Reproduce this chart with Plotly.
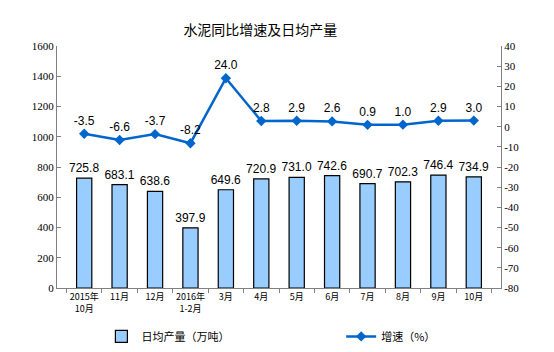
import plotly.graph_objects as go

categories = ["2015年<br>10月", "11月", "12月", "2016年<br>1-2月", "3月", "4月", "5月", "6月", "7月", "8月", "9月", "10月"]
daily_output = [725.8, 683.1, 638.6, 397.9, 649.6, 720.9, 731.0, 742.6, 690.7, 702.3, 746.4, 734.9]
growth = [-3.5, -6.6, -3.7, -8.2, 24.0, 2.8, 2.9, 2.6, 0.9, 1.0, 2.9, 3.0]
left_ticks = list(range(0, 1601, 200))
right_ticks = list(range(-80, 41, 10))

fig = go.Figure()
fig.add_trace(go.Bar(
    x=categories, y=daily_output, name="日均产量（万吨）",
    marker=dict(color="#99CCFF", line=dict(color="#000000", width=1.2)),
    width=0.43,
    text=[f"{v:.1f}" for v in daily_output], textposition="outside", constraintext="none",
    textfont=dict(family="Liberation Sans, Arial", size=12, color="#000"),
    cliponaxis=False, legend="legend",
))
fig.add_trace(go.Scatter(
    x=categories, y=growth, name="增速（%）", yaxis="y2",
    mode="lines+markers+text",
    line=dict(color="#0066CC", width=2.5),
    marker=dict(symbol="diamond", size=8, color="#0066CC"),
    text=[f"{v:.1f}" for v in growth], textposition="top center",
    textfont=dict(family="Liberation Sans, Arial", size=12, color="#000"),
    cliponaxis=False, legend="legend2",
))

fig.update_layout(
    width=554, height=352,
    margin=dict(l=57, r=53, t=46, b=64, autoexpand=False),
    paper_bgcolor="white", plot_bgcolor="white",
    title=dict(text="水泥同比增速及日均产量", x=0.47, xanchor="center", y=0.915, yanchor="middle",
               font=dict(family="Noto Sans CJK SC", size=14, color="#000")),
    xaxis=dict(showline=True, linecolor="#808080", linewidth=1, ticks="outside", tickson="boundaries",
               ticklen=4, tickcolor="#808080", showgrid=False, tickangle=0, automargin=False,
               tickfont=dict(family="Noto Sans CJK SC", size=9, color="#000")),
    yaxis=dict(range=[0, 1600], tickvals=left_ticks, ticktext=[str(v) for v in left_ticks],
               showline=True, linecolor="#808080", linewidth=1, automargin=False,
               ticks="inside", ticklen=4, tickcolor="#808080", showgrid=False, zeroline=False,
               tickfont=dict(family="Liberation Serif, Times New Roman", size=11, color="#000")),
    yaxis2=dict(range=[-80, 40], tickvals=right_ticks, ticktext=[str(v) for v in right_ticks],
                overlaying="y", side="right", showline=True, automargin=False,
                linecolor="#808080", linewidth=1, ticks="inside", ticklen=4, tickcolor="#808080",
                showgrid=False, zeroline=False,
                tickfont=dict(family="Liberation Serif, Times New Roman", size=11, color="#000")),
    bargap=0.57,
    legend=dict(orientation="h", x=0.1, xanchor="left", y=-0.2, yanchor="middle",
                font=dict(family="Noto Sans CJK SC", size=11, color="#000"), itemwidth=30),
    legend2=dict(orientation="h", x=0.64, xanchor="left", y=-0.2, yanchor="middle",
                 font=dict(family="Noto Sans CJK SC", size=11, color="#000"), itemwidth=30),
    showlegend=True,
)

fig.write_html("out.html")
